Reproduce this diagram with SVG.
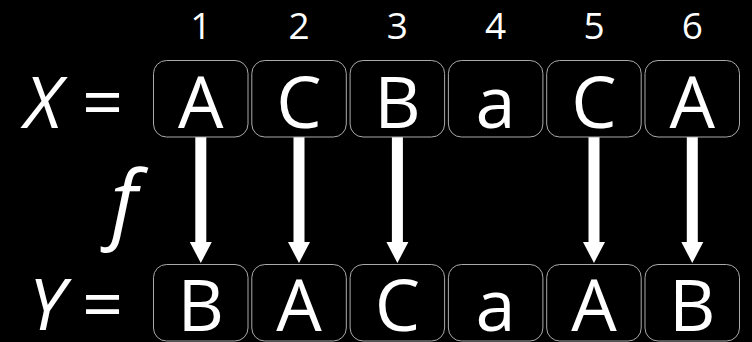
<svg xmlns="http://www.w3.org/2000/svg" width="752" height="342" viewBox="0 0 752 342">
<style>
.box{fill:#000;stroke:#aaa;stroke-width:1}
.t{font-family:"Open Sans","Noto Sans",sans-serif;fill:#fff;text-anchor:middle}
.big{font-size:72px}
.num{font-size:37px}
.it{font-style:italic}
.arr{stroke:#fff;stroke-width:11}
</style>
<rect width="752" height="342" fill="#000"/>
<g id="labels">
<text class="t big it" x="43" y="128">X</text>
<text class="t big" x="102.5" y="128">=</text>
<text class="t big it" x="47" y="330">Y</text>
<text class="t big" x="102.5" y="330">=</text>
<text class="t it" style="font-size:86px" x="124" y="232">f</text>
</g>
<g id="indices">
<text class="t num" x="200.8" y="39">1</text>
<text class="t num" x="299" y="39">2</text>
<text class="t num" x="397.4" y="39">3</text>
<text class="t num" x="495.6" y="39">4</text>
<text class="t num" x="594" y="39">5</text>
<text class="t num" x="692.3" y="39">6</text>
</g>
<g id="connectors">
<line class="arr" x1="200.8" y1="137" x2="200.8" y2="243" />
<path d="M189.8,242 L211.8,242 L200.8,263 Z" fill="#fff"/>
<line class="arr" x1="299" y1="137" x2="299" y2="243" />
<path d="M288,242 L310,242 L299,263 Z" fill="#fff"/>
<line class="arr" x1="397.4" y1="137" x2="397.4" y2="243" />
<path d="M386.4,242 L408.4,242 L397.4,263 Z" fill="#fff"/>
<line class="arr" x1="594" y1="137" x2="594" y2="243" />
<path d="M583,242 L605,242 L594,263 Z" fill="#fff"/>
<line class="arr" x1="692.3" y1="137" x2="692.3" y2="243" />
<path d="M681.3,242 L703.3,242 L692.3,263 Z" fill="#fff"/>
</g>
<g id="x1"><rect class="box" x="153.5" y="60.5" width="94.5" height="76.5" rx="13"/><text class="t big" x="200.8" y="128">A</text></g>
<g id="x2"><rect class="box" x="251.8" y="60.5" width="94.5" height="76.5" rx="13"/><text class="t big" x="299" y="128">C</text></g>
<g id="x3"><rect class="box" x="350.1" y="60.5" width="94.5" height="76.5" rx="13"/><text class="t big" x="397.4" y="128">B</text></g>
<g id="x4"><rect class="box" x="448.4" y="60.5" width="94.5" height="76.5" rx="13"/><text class="t big" x="495.6" y="128">a</text></g>
<g id="x5"><rect class="box" x="546.7" y="60.5" width="94.5" height="76.5" rx="13"/><text class="t big" x="594" y="128">C</text></g>
<g id="x6"><rect class="box" x="645" y="60.5" width="94.5" height="76.5" rx="13"/><text class="t big" x="692.3" y="128">A</text></g>
<g id="y1"><rect class="box" x="153.5" y="264.5" width="94.5" height="76.5" rx="13"/><text class="t big" x="200.8" y="331">B</text></g>
<g id="y2"><rect class="box" x="251.8" y="264.5" width="94.5" height="76.5" rx="13"/><text class="t big" x="299" y="331">A</text></g>
<g id="y3"><rect class="box" x="350.1" y="264.5" width="94.5" height="76.5" rx="13"/><text class="t big" x="397.4" y="331">C</text></g>
<g id="y4"><rect class="box" x="448.4" y="264.5" width="94.5" height="76.5" rx="13"/><text class="t big" x="495.6" y="331">a</text></g>
<g id="y5"><rect class="box" x="546.7" y="264.5" width="94.5" height="76.5" rx="13"/><text class="t big" x="594" y="331">A</text></g>
<g id="y6"><rect class="box" x="645" y="264.5" width="94.5" height="76.5" rx="13"/><text class="t big" x="692.3" y="331">B</text></g>
</svg>
